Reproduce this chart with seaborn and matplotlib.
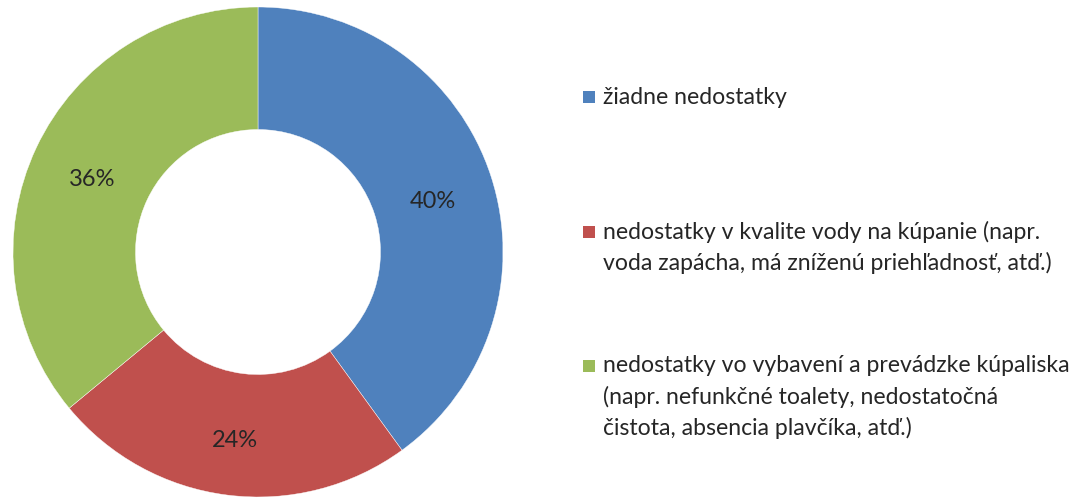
import matplotlib
matplotlib.use("Agg")
import matplotlib.pyplot as plt
import matplotlib.patches as mpatches
import seaborn as sns
import numpy as np

categories = [
    "žiadne nedostatky",
    "nedostatky v kvalite vody na kúpanie (napr.\nvoda zapácha, má zníženú priehľadnosť, atď.)",
    "nedostatky vo vybavení a prevádzke kúpaliska\n(napr. nefunkčné toalety, nedostatočná\nčistota, absencia plavčíka, atď.)",
]
values = [40, 24, 36]
pct_labels = ["40%", "24%", "36%"]
colors = ["#4F81BD", "#C0504D", "#9BBB59"]

sns.set_theme(style="white")
plt.rcParams["font.family"] = ["Lato", "DejaVu Sans"]

fig = plt.figure(figsize=(10.71, 5.03), dpi=100)
W, H = 1071, 503
cx, cy, r = 258, 252, 245
ax = fig.add_axes([(cx - r) / W, (H - cy - r) / H, 2 * r / W, 2 * r / H])
wedges, _ = ax.pie(values, colors=colors, startangle=90, counterclock=False,
                   radius=1.0, wedgeprops=dict(width=0.5, edgecolor="white", linewidth=0.3))
ax.set_xlim(-1, 1)
ax.set_ylim(-1, 1)
ax.set_aspect("equal")
ax.axis("off")

theta = 90.0
for v, lab in zip(values, pct_labels):
    span = 360.0 * v / sum(values)
    mid = np.deg2rad(theta - span / 2)
    theta -= span
    ax.text(0.75 * np.cos(mid), 0.75 * np.sin(mid) - 0.025, lab, ha="center", va="center",
            fontsize=17, color="#262626")

# legend drawn manually
first_line_y = [97, 232, 366]
line_h = 31
for lab, col, y in zip(categories, colors, first_line_y):
    fig.patches.append(mpatches.Rectangle((583 / W, (H - y - 6) / H), 12 / W, 12 / H,
                                          transform=fig.transFigure, facecolor=col,
                                          edgecolor="none"))
    for i, line in enumerate(lab.split("\n")):
        fig.text(603 / W, (H - y - i * line_h) / H, line, ha="left", va="center",
                 fontsize=16.6, color="#262626")

fig.savefig("out.png", dpi=100)
